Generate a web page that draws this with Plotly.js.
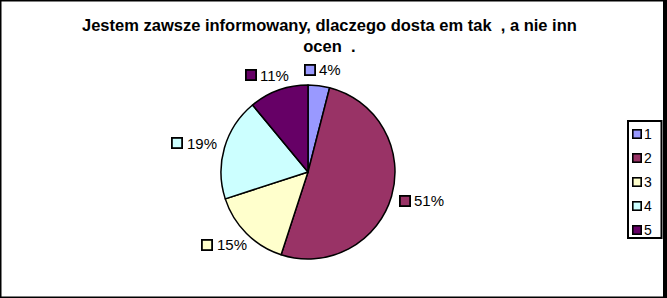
<!DOCTYPE html>
<html><head><meta charset="utf-8">
<script src="https://cdn.plot.ly/plotly-3.0.1.min.js"></script>
<style>html,body{margin:0;padding:0;background:#fff}#chart{width:667px;height:298px}</style>
</head><body><div id="chart"></div>
<script>
const categories = ['1', '2', '3', '4', '5'];
const values = [4, 51, 15, 19, 11];
const colors = ['#9999FF', '#993366', '#FFFFCC', '#CCFFFF', '#660066'];
const titleText = 'Jestem zawsze informowany, dlaczego dosta em tak \u00a0, a nie inn<br>ocen \u00a0.';

const W = 667, H = 298;
const cx = 308, cy = 172, R = 87;
const FONT = 'Liberation Sans, Arial, sans-serif';
const LBL = 15;

function px(x) { return x / W; }
function py(y) { return 1 - y / H; }

const total = values.reduce((a, b) => a + b, 0);
const annotations = [];
let cum = 0;
values.forEach((v, i) => {
  const mid = (cum + v / 2) / total * 2 * Math.PI;
  cum += v;
  const txt = Math.round(v / total * 100) + '%';
  const tw = (txt.length - 1) * 8.34 + 13.3;
  const w = 15 + tw, h = 14, g = 9;
  const s = Math.sin(mid), c = Math.cos(mid);
  const lx = cx + (R + g) * s + s * w / 2;
  const ly = cy - (R + g) * c - c * h / 2;
  const left = lx - w / 2;
  annotations.push({
    x: px(left + 5.5), y: py(ly), xref: 'paper', yref: 'paper', xanchor: 'center', yanchor: 'middle',
    text: ' ', width: 8, height: 8, bgcolor: colors[i], bordercolor: '#000',
    borderwidth: 1.8, borderpad: 0, showarrow: false, font: {size: 6}
  });
  annotations.push({
    x: px(left + 13), y: py(ly), xref: 'paper', yref: 'paper', xanchor: 'left', yanchor: 'middle',
    text: txt, showarrow: false, font: {family: FONT, size: LBL, color: '#000'}
  });
});

// legend (built from categories / colors)
const legTop = 134, legStep = 24;
categories.forEach((cat, i) => {
  const y = legTop + i * legStep;
  annotations.push({
    x: px(637), y: py(y), xref: 'paper', yref: 'paper', xanchor: 'center', yanchor: 'middle',
    text: ' ', width: 7, height: 7, bgcolor: colors[i], bordercolor: '#000',
    borderwidth: 1.6, borderpad: 0, showarrow: false, font: {size: 5}
  });
  annotations.push({
    x: px(641.5), y: py(y), xref: 'paper', yref: 'paper', xanchor: 'left', yanchor: 'middle',
    text: cat, showarrow: false, font: {family: FONT, size: 14, color: '#000'}
  });
});

annotations.push({
  x: px(329), y: py(35), xref: 'paper', yref: 'paper', xanchor: 'center', yanchor: 'middle',
  text: '<b>' + titleText + '</b>', showarrow: false, align: 'center',
  font: {family: FONT, size: 16.5, color: '#000'}
});

const data = [{
  type: 'pie', labels: categories, values: values, sort: false,
  direction: 'clockwise', rotation: 0,
  marker: {colors: colors, line: {color: '#000', width: 1.5}},
  textinfo: 'none', hoverinfo: 'label+percent', showlegend: false,
  domain: {x: [px(cx - R), px(cx + R)], y: [py(cy + R), py(cy - R)]}
}];

const layout = {
  width: W, height: H, margin: {l: 0, r: 0, t: 0, b: 0, autoexpand: false},
  paper_bgcolor: '#fff',
  showlegend: false,
  annotations: annotations,
  shapes: [
    {type: 'rect', xref: 'paper', yref: 'paper', x0: 0, x1: 1, y0: 0, y1: 1,
      line: {color: '#000', width: 3}},
    {type: 'line', xref: 'paper', yref: 'paper', x0: px(665), x1: px(665), y0: 0, y1: 1,
      line: {color: '#000', width: 4}},
    {type: 'rect', xref: 'paper', yref: 'paper', x0: px(628), x1: px(661.5), y0: py(238), y1: py(121),
      line: {color: '#000', width: 2}, fillcolor: 'rgba(0,0,0,0)'}
  ]
};

Plotly.newPlot('chart', data, layout, {displayModeBar: false, staticPlot: true});
</script></body></html>
